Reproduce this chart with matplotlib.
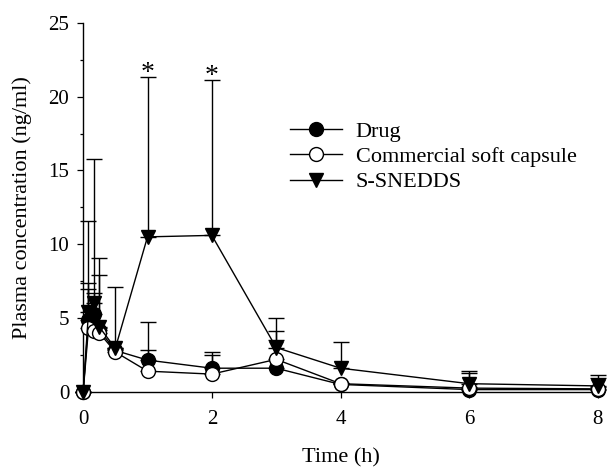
import matplotlib
matplotlib.use("Agg")
import matplotlib.pyplot as plt
import numpy as np
from matplotlib.ticker import MultipleLocator

plt.rcParams['font.family'] = ['Liberation Serif', 'DejaVu Serif']
plt.rcParams['font.size'] = 16

time = [0, 0.083, 0.167, 0.25, 0.5, 1, 2, 3, 4, 6, 8]

drug = [0, 4.9, 5.3, 4.2, 2.8, 2.15, 1.6, 1.6, 0.5, 0.15, 0.15]
drug_top = [0, 7.4, 6.7, 7.9, 3.0, 4.7, 2.7, 4.1, 0.6, 0.3, 0.3]

commercial = [0, 4.3, 4.1, 4.0, 2.7, 1.4, 1.2, 2.2, 0.55, 0.25, 0.2]
commercial_top = [0, 7.0, 4.4, 4.3, 2.9, 2.8, 2.5, 3.5, 0.6, 1.25, 0.95]

snedds = [0, 5.4, 6.0, 4.4, 2.95, 10.5, 10.6, 3.0, 1.6, 0.55, 0.4]
snedds_top = [0, 11.6, 15.8, 9.1, 7.1, 21.3, 21.1, 5.0, 3.4, 1.4, 1.15]

star_times = [1, 2]

fig = plt.figure(figsize=(6.07, 4.67), dpi=100)
ax = fig.add_axes([0.137, 0.161, 0.848, 0.790])

series = [
    ("Drug", drug, drug_top, 'o', 'black'),
    ("Commercial soft capsule", commercial, commercial_top, 'o', 'white'),
    ("S-SNEDDS", snedds, snedds_top, 'v', 'black'),
]

for label, mean, top, marker, face in series:
    mean = np.array(mean)
    up = np.array(top) - mean
    ax.errorbar(time, mean, yerr=[np.zeros_like(up), up], fmt='none',
                ecolor='black', elinewidth=1.0, capsize=6, capthick=1.0,
                clip_on=False, zorder=2)
    ax.plot(time, mean, '-', marker=marker, color='black', lw=1.0,
            markersize=10, markerfacecolor=face, markeredgecolor='black',
            markeredgewidth=1.0, label=label, clip_on=False, zorder=3)

for t in star_times:
    i = time.index(t)
    ax.text(t, snedds_top[i] - 0.15, '*', ha='center', va='baseline', fontsize=20)

ax.set_xlim(0, 8)
ax.set_ylim(0, 25)
ax.set_xticks([0, 2, 4, 6, 8])
ax.yaxis.set_major_locator(MultipleLocator(5))
ax.yaxis.set_minor_locator(MultipleLocator(2.5))
ax.tick_params(which='major', direction='out', length=4, width=0.9, pad=6,
               labelsize=15)
ax.tick_params(axis='x', which='major', pad=9)
ax.tick_params(which='minor', direction='out', length=2.5, width=0.9)
for s in ['top', 'right']:
    ax.spines[s].set_visible(False)
for s in ['left', 'bottom']:
    ax.spines[s].set_linewidth(1.0)

ax.set_xlabel("Time (h)", labelpad=14)
ax.set_ylabel("Plasma concentration (ng/ml)", labelpad=12)

ax.legend(loc='upper left', bbox_to_anchor=(0.402, 0.734), frameon=False,
          borderpad=0, borderaxespad=0, handlelength=2.35, handletextpad=0.6,
          labelspacing=0.22)

fig.savefig("out.png", dpi=100)
